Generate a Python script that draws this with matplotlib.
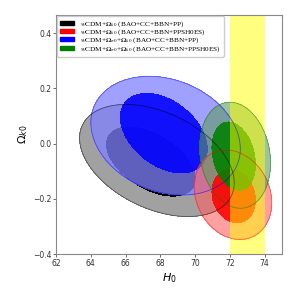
import numpy as np
import matplotlib
matplotlib.use("Agg")
import matplotlib.pyplot as plt
from matplotlib.font_manager import FontProperties
from matplotlib.patches import Patch

# contour regions: centre, half-extent in x and y, correlation
# order inside each list: [outer (95%), inner (68%)]
LABELS = [r"$w$CDM+$\Omega_{k0}$ (BAO+CC+BBN+PP)",
          r"$w$CDM+$\Omega_{k0}$ (BAO+CC+BBN+PPSH0ES)",
          r"$w$CDM+$\Omega_{\sigma0}$+$\Omega_{k0}$ (BAO+CC+BBN+PP)",
          r"$w$CDM+$\Omega_{\sigma0}$+$\Omega_{k0}$ (BAO+CC+BBN+PPSH0ES)"]
COLORS = ["black", "red", "blue", "green"]

H0_C = {"black": [67.8, 67.45], "red": [72.18, 72.22], "blue": [68.3, 68.2], "green": [72.3, 72.22]}
H0_W = {"black": [4.45, 2.55], "red": [2.23, 1.25], "blue": [4.3, 2.5], "green": [2.04, 1.25]}
OK_C = {"black": [-0.061, -0.065], "red": [-0.185, -0.19], "blue": [0.029, 0.038], "green": [-0.042, -0.045]}
OK_W = {"black": [0.203, 0.125], "red": [0.162, 0.096], "blue": [0.215, 0.144], "green": [0.192, 0.1235]}
RHO = {"black": [-0.4, -0.5], "red": [-0.18, -0.15], "blue": [-0.22, -0.4], "green": [-0.15, -0.25]}

# outer / inner fill colours and opacity
OUTER = {"black": ("black", 0.37), "blue": ("#8080ff", 0.75),
         "red": ("#ff6060", 0.6), "green": ("#609a60", 0.6)}
INNER = {"black": ("black", 1.0), "blue": ("blue", 0.88),
         "red": ("red", 0.88), "green": ("green", 0.88)}

SH0ES = (72.0, 74.0)

X, Y = np.meshgrid(np.linspace(60, 77, 500), np.linspace(-0.6, 0.6, 500))


def qform(name, i):
    dx = (X - H0_C[name][i]) / H0_W[name][i]
    dy = (Y - OK_C[name][i]) / OK_W[name][i]
    r = RHO[name][i]
    return (dx**2 - 2 * r * dx * dy + dy**2) / (1 - r**2)


fig = plt.figure(figsize=(3, 3), dpi=100)
ax = fig.add_axes([0.187, 0.153, 0.753, 0.797])

draw = [("black", 0), ("black", 1), ("blue", 0), ("blue", 1),
        ("red", 0), ("green", 0), ("red", 1), ("green", 1)]
for name, i in draw:
    c, a = OUTER[name] if i == 0 else INNER[name]
    ax.contourf(X, Y, qform(name, i), levels=[0, 1], colors=[c], alpha=a)
for name in ["black", "blue", "red", "green"]:
    ax.contour(X, Y, qform(name, 0), levels=[1], colors=[name], linewidths=0.6, alpha=0.5)

ax.axvspan(*SH0ES, color="yellow", alpha=0.5, lw=0)

ax.set_xlim(62, 75)
ax.set_ylim(-0.4, 0.466)
ax.set_xticks(np.arange(62, 75, 2))
ax.set_yticks(np.arange(-0.4, 0.41, 0.2))
ax.tick_params(labelsize=5.5, length=2, width=0.5, pad=1.5, colors="#333333")
for s in ax.spines.values():
    s.set_color("#888888")
    s.set_linewidth(0.8)
ax.set_xlabel(r"$H_0$", fontsize=8, labelpad=2)
ax.set_ylabel(r"$\Omega_{k0}$", fontsize=8, labelpad=2)

handles = [Patch(color=c) for c in COLORS]
prop = FontProperties(family="Liberation Serif", size=5.2, math_fontfamily="stix")
ax.legend(handles, LABELS, loc="upper left", bbox_to_anchor=(0.003, 0.997), prop=prop,
          handlelength=2.0, handleheight=0.5, labelspacing=-0.2, borderpad=0.45,
          borderaxespad=0.0, handletextpad=0.7, fancybox=True, framealpha=1)

fig.savefig("out.png", dpi=100)
